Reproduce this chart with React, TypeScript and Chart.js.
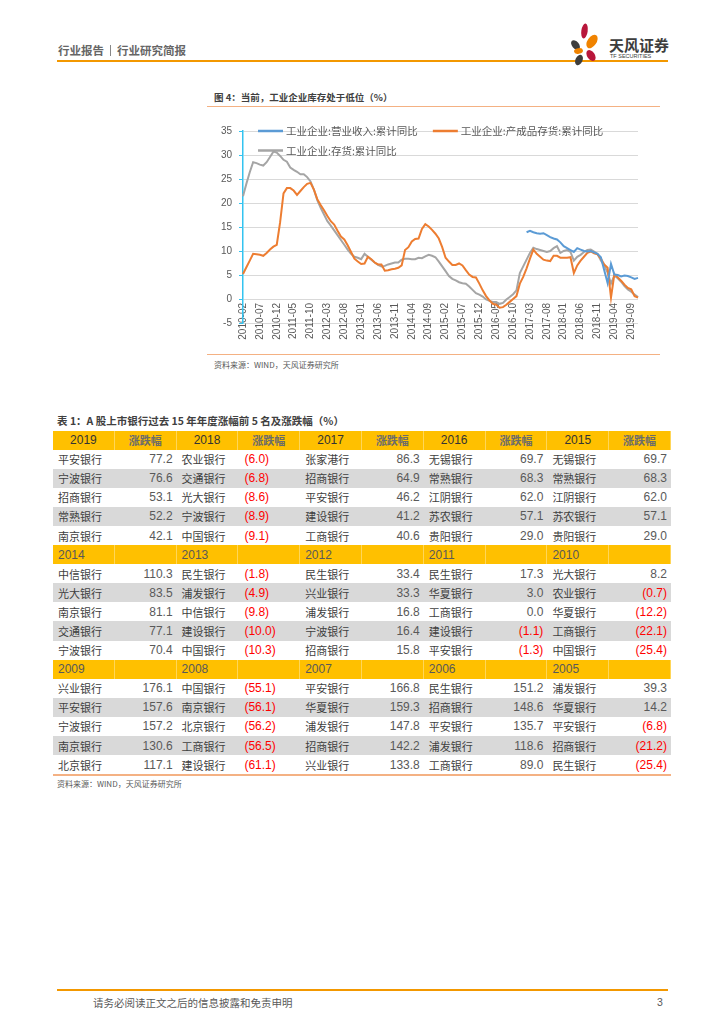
import React, { useEffect, useRef } from 'react';
import { Chart, registerables } from 'chart.js';

Chart.register(...registerables);

// ---------------- chart data ----------------
const months = [
  '2010-02', '2010-03', '2010-04', '2010-05', '2010-06', '2010-07', '2010-08', '2010-09', '2010-10', '2010-11', '2010-12',
  '2011-01', '2011-02', '2011-03', '2011-04', '2011-05', '2011-06', '2011-07', '2011-08', '2011-09', '2011-10', '2011-11', '2011-12',
  '2012-01', '2012-02', '2012-03', '2012-04', '2012-05', '2012-06', '2012-07', '2012-08', '2012-09', '2012-10', '2012-11', '2012-12',
  '2013-01', '2013-02', '2013-03', '2013-04', '2013-05', '2013-06', '2013-07', '2013-08', '2013-09', '2013-10', '2013-11', '2013-12',
  '2014-01', '2014-02', '2014-03', '2014-04', '2014-05', '2014-06', '2014-07', '2014-08', '2014-09', '2014-10', '2014-11', '2014-12',
  '2015-01', '2015-02', '2015-03', '2015-04', '2015-05', '2015-06', '2015-07', '2015-08', '2015-09', '2015-10', '2015-11', '2015-12',
  '2016-01', '2016-02', '2016-03', '2016-04', '2016-05', '2016-06', '2016-07', '2016-08', '2016-09', '2016-10', '2016-11', '2016-12',
  '2017-01', '2017-02', '2017-03', '2017-04', '2017-05', '2017-06', '2017-07', '2017-08', '2017-09', '2017-10', '2017-11', '2017-12',
  '2018-01', '2018-02', '2018-03', '2018-04', '2018-05', '2018-06', '2018-07', '2018-08', '2018-09', '2018-10', '2018-11', '2018-12',
  '2019-01', '2019-02', '2019-03', '2019-04', '2019-05', '2019-06', '2019-07', '2019-08', '2019-09', '2019-10', '2019-11',
];

const tickLabels = [
  '2010-02', '2010-07', '2010-12', '2011-05', '2011-10', '2012-03', '2012-08', '2013-01',
  '2013-06', '2013-11', '2014-04', '2014-09', '2015-02', '2015-07', '2015-12', '2016-05',
  '2016-10', '2017-03', '2017-08', '2018-01', '2018-06', '2018-11', '2019-04', '2019-09',
];

// 工业企业:营业收入:累计同比 (starts 2017-02)
const revenueYoY = [
  null, null, null, null, null, null, null, null, null, null, null,
  null, null, null, null, null, null, null, null, null, null, null, null,
  null, null, null, null, null, null, null, null, null, null, null, null,
  null, null, null, null, null, null, null, null, null, null, null, null,
  null, null, null, null, null, null, null, null, null, null, null, null,
  null, null, null, null, null, null, null, null, null, null, null, null,
  null, null, null, null, null, null, null, null, null, null, null, null,
  null, 13.9, 14.2, 13.9, 13.7, 13.6, 13.7, 13.3, 12.9, 12.6, 12.4, 11.8,
  11.0, 10.6, 10.2, 9.8, 10.6, 10.3, 10.0, 9.9, 10.0, 9.7, 9.4, 8.7,
  6.0, 3.3, 7.3, 5.1, 5.0, 4.7, 4.9, 4.8, 4.5, 4.2, 4.4,
];

// 工业企业:产成品存货:累计同比
const finishedGoodsYoY = [
  5.2, 6.6, 8.0, 9.4, 9.3, 9.2, 9.0, 9.6, 10.3, 10.9, 11.3,
  16.0, 22.0, 23.1, 23.1, 22.6, 21.7, 22.5, 23.3, 24.0, 24.2, 22.8, 20.8,
  19.6, 18.5, 17.3, 16.2, 15.5, 14.2, 13.0, 12.4, 11.2, 9.8, 8.4, 7.8,
  7.3, 7.4, 8.8, 8.3, 7.6, 7.2, 7.2, 5.9, 6.0, 6.2, 6.3, 6.5,
  7.0, 10.2, 10.8, 12.0, 12.5, 12.6, 14.6, 15.6, 15.1, 14.4, 13.6, 12.6,
  10.8, 8.6, 7.8, 7.1, 7.1, 7.4, 7.0, 6.0, 5.1, 4.6, 4.5, 3.2,
  1.8, 0.6, -0.3, -1.0, -1.2, -1.8, -1.7, -1.2, -0.6, 0.0, 0.6, 3.2,
  4.6, 6.4, 8.4, 10.3, 9.4, 8.8, 8.2, 8.0, 7.9, 9.0, 9.0, 8.6,
  8.6, 8.6, 8.7, 5.4, 7.0, 8.0, 8.8, 9.6, 9.9, 9.5, 9.3, 8.4,
  7.2, 6.5, 0.3, 5.2, 4.5, 3.8, 3.0, 2.3, 2.0, 0.6, 0.3,
];

// 工业企业:存货:累计同比
const inventoryYoY = [
  21.4, 24.0, 26.4, 28.5, 28.3, 28.0, 27.8, 28.5, 29.6, 30.7, 30.5,
  29.8, 29.0, 28.6, 27.4, 26.9, 26.5, 26.0, 26.0, 25.4, 24.5, 22.8, 20.6,
  19.0, 17.6, 16.2, 15.3, 14.3, 13.3, 12.3, 11.3, 10.3, 9.4, 8.8, 8.6,
  8.3, 9.4, 8.8, 8.2, 7.6, 7.1, 6.8, 6.9, 7.2, 7.4, 7.6, 7.6,
  8.2, 8.4, 8.4, 8.3, 8.3, 8.6, 8.5, 8.9, 9.2, 9.0, 8.7, 7.8,
  6.8, 5.8, 4.8, 4.2, 3.9, 3.5, 3.3, 3.2, 2.6, 1.9, 1.2, 0.9,
  0.5, -0.1, -0.4, -0.6, -0.6, -1.0, -0.8, -0.1, 0.4, 1.0, 1.8, 5.4,
  6.8, 8.2, 9.6, 10.7, 10.4, 10.2, 10.0, 9.8, 10.0, 10.6, 11.0, 9.6,
  10.0, 10.2, 9.8, 8.0, 8.8, 9.2, 9.8, 10.2, 10.3, 9.9, 9.4, 8.0,
  7.0, 5.5, 3.2, 4.9, 4.3, 3.6, 2.7, 2.0, 1.5, 0.9, 0.4,
];

const seriesLabels = ['工业企业:营业收入:累计同比', '工业企业:产成品存货:累计同比', '工业企业:存货:累计同比'];
const seriesColors = ['#5b9bd5', '#ed7d31', '#a5a5a5'];

// ---------------- table data ----------------
const tableYears = [
  [2019, 2018, 2017, 2016, 2015],
  [2014, 2013, 2012, 2011, 2010],
  [2009, 2008, 2007, 2006, 2005],
];

const top2019: [string, number][] = [['平安银行', 77.2], ['宁波银行', 76.6], ['招商银行', 53.1], ['常熟银行', 52.2], ['南京银行', 42.1]];
const top2018: [string, number][] = [['农业银行', -6.0], ['交通银行', -6.8], ['光大银行', -8.6], ['宁波银行', -8.9], ['中国银行', -9.1]];
const top2017: [string, number][] = [['张家港行', 86.3], ['招商银行', 64.9], ['平安银行', 46.2], ['建设银行', 41.2], ['工商银行', 40.6]];
const top2016: [string, number][] = [['无锡银行', 69.7], ['常熟银行', 68.3], ['江阴银行', 62.0], ['苏农银行', 57.1], ['贵阳银行', 29.0]];
const top2015: [string, number][] = [['无锡银行', 69.7], ['常熟银行', 68.3], ['江阴银行', 62.0], ['苏农银行', 57.1], ['贵阳银行', 29.0]];
const top2014: [string, number][] = [['中信银行', 110.3], ['光大银行', 83.5], ['南京银行', 81.1], ['交通银行', 77.1], ['宁波银行', 70.4]];
const top2013: [string, number][] = [['民生银行', -1.8], ['浦发银行', -4.9], ['中信银行', -9.8], ['建设银行', -10.0], ['中国银行', -10.3]];
const top2012: [string, number][] = [['民生银行', 33.4], ['兴业银行', 33.3], ['浦发银行', 16.8], ['宁波银行', 16.4], ['招商银行', 15.8]];
const top2011: [string, number][] = [['民生银行', 17.3], ['华夏银行', 3.0], ['工商银行', 0.0], ['建设银行', -1.1], ['平安银行', -1.3]];
const top2010: [string, number][] = [['光大银行', 8.2], ['农业银行', -0.7], ['华夏银行', -12.2], ['工商银行', -22.1], ['中国银行', -25.4]];
const top2009: [string, number][] = [['兴业银行', 176.1], ['平安银行', 157.6], ['宁波银行', 157.2], ['南京银行', 130.6], ['北京银行', 117.1]];
const top2008: [string, number][] = [['中国银行', -55.1], ['南京银行', -56.1], ['北京银行', -56.2], ['工商银行', -56.5], ['建设银行', -61.1]];
const top2007: [string, number][] = [['平安银行', 166.8], ['华夏银行', 159.3], ['浦发银行', 147.8], ['招商银行', 142.2], ['兴业银行', 133.8]];
const top2006: [string, number][] = [['民生银行', 151.2], ['招商银行', 148.6], ['平安银行', 135.7], ['浦发银行', 118.6], ['工商银行', 89.0]];
const top2005: [string, number][] = [['浦发银行', 39.3], ['华夏银行', 14.2], ['平安银行', -6.8], ['招商银行', -21.2], ['民生银行', -25.4]];

const rankByYear: Record<number, [string, number][]> = {
  2019: top2019, 2018: top2018, 2017: top2017, 2016: top2016, 2015: top2015,
  2014: top2014, 2013: top2013, 2012: top2012, 2011: top2011, 2010: top2010,
  2009: top2009, 2008: top2008, 2007: top2007, 2006: top2006, 2005: top2005,
};

// ---------------- styling ----------------
const CJK = '"Noto Sans CJK SC", "Noto Sans", sans-serif';
const NUM = '"Liberation Sans Narrow", "Liberation Sans", Arial, sans-serif';
const ORANGE = '#f39800';
const PEACH = '#f4b183';
const COL_W = 61.8;
const ROW_H = 19.1;

function fmt(v: number) {
  return v < 0 ? `(${Math.abs(v).toFixed(1)})` : v.toFixed(1);
}

function Txt(props: { x: number; y: number; size: number; children: React.ReactNode; bold?: boolean; color?: string; family?: string }) {
  const lh = Math.round(props.size * 1.4);
  return (
    <div
      style={{
        position: 'absolute',
        left: props.x,
        top: props.y - lh / 2,
        height: lh,
        lineHeight: `${lh}px`,
        fontSize: props.size,
        fontWeight: props.bold ? 700 : 400,
        color: props.color || '#595959',
        fontFamily: props.family || CJK,
        whiteSpace: 'nowrap',
      }}
    >
      {props.children}
    </div>
  );
}

function Logo() {
  return (
    <svg style={{ position: 'absolute', left: 560, top: 18 }} width={50} height={48} viewBox="560 18 50 48">
      <ellipse cx={584.5} cy={31} rx={3.2} ry={7.5} transform="rotate(8 584.5 31)" fill="#b8163b" />
      <ellipse cx={575.5} cy={45} rx={3.5} ry={5.5} transform="rotate(-40 575.5 45)" fill="#3d3d3d" />
      <ellipse cx={592} cy={41.5} rx={4.5} ry={7.5} transform="rotate(35 592 41.5)" fill="#f08300" />
      <ellipse cx={578.5} cy={51} rx={4.5} ry={2.8} transform="rotate(-10 578.5 51)" fill="#f08300" />
      <ellipse cx={591} cy={55.5} rx={3.8} ry={6} transform="rotate(-35 591 55.5)" fill="#b8163b" />
      <ellipse cx={579} cy={60} rx={3.5} ry={5.5} transform="rotate(25 579 60)" fill="#3d3d3d" />
    </svg>
  );
}

function cellStyle(align: 'left' | 'right' | 'center', extra?: React.CSSProperties): React.CSSProperties {
  return {
    width: COL_W,
    height: ROW_H,
    boxSizing: 'border-box',
    display: 'flex',
    alignItems: 'center',
    justifyContent: align === 'left' ? 'flex-start' : align === 'right' ? 'flex-end' : 'center',
    paddingLeft: 5,
    paddingRight: 5,
    whiteSpace: 'nowrap',
    ...extra,
  };
}

function BankTable() {
  const rows: React.ReactNode[] = [];
  tableYears.forEach((group, gi) => {
    rows.push(
      <div key={`h${gi}`} style={{ display: 'flex', height: ROW_H, background: '#ffc000' }}>
        {group.map((yr, ci) => (
          <React.Fragment key={ci}>
            <div
              style={cellStyle(gi === 0 ? 'center' : 'left', {
                fontFamily: NUM,
                fontSize: 12,
                color: gi === 0 ? '#333' : '#595959',
                borderRight: '1px solid rgba(255,255,255,0.35)',
              })}
            >
              {yr}
            </div>
            <div
              style={cellStyle('center', {
                fontFamily: CJK,
                fontSize: 11,
                fontWeight: 700,
                color: '#6b6b6b',
                borderRight: '1px solid rgba(255,255,255,0.35)',
              })}
            >
              {gi === 0 ? '涨跌幅' : ''}
            </div>
          </React.Fragment>
        ))}
      </div>
    );
    for (let r = 0; r < 5; r++) {
      rows.push(
        <div key={`r${gi}-${r}`} style={{ display: 'flex', height: ROW_H, background: r % 2 === 1 ? '#d9d9d9' : '#ffffff' }}>
          {group.map((yr, ci) => {
            const [name, v] = rankByYear[yr][r];
            return (
              <React.Fragment key={ci}>
                <div style={cellStyle('left', { fontFamily: CJK, fontSize: 11, color: '#404040' })}>{name}</div>
                <div
                  style={cellStyle(ci === 1 ? 'left' : 'right', {
                    fontFamily: NUM,
                    fontSize: 12,
                    color: v < 0 ? '#ff0000' : '#595959',
                    paddingLeft: ci === 1 ? 6 : 5,
                    paddingRight: 4,
                  })}
                >
                  {fmt(v)}
                </div>
              </React.Fragment>
            );
          })}
        </div>
      );
    }
  });
  return (
    <div style={{ position: 'absolute', left: 53, top: 430.5, width: COL_W * 10 }}>
      {rows}
      <div style={{ height: 1.5, background: PEACH }} />
    </div>
  );
}

export default function App() {
  const canvasRef = useRef<HTMLCanvasElement>(null);

  useEffect(() => {
    const canvas = canvasRef.current;
    if (!canvas) return;

    const insideLegend = {
      id: 'insideLegend',
      afterDatasetsDraw(chart: any) {
        const { ctx, chartArea } = chart;
        ctx.save();
        ctx.font = `10.5px ${CJK}`;
        ctx.textBaseline = 'middle';
        ctx.textAlign = 'left';
        const startX = chartArea.left + 15;
        let x = startX;
        let y = chartArea.top;
        chart.data.datasets.forEach((ds: any) => {
          const w = 28 + ctx.measureText(ds.label).width;
          if (x !== startX && x + w > chartArea.right) {
            x = startX;
            y += 19.5;
          }
          ctx.strokeStyle = ds.borderColor;
          ctx.lineWidth = 2.5;
          ctx.beginPath();
          ctx.moveTo(x, y);
          ctx.lineTo(x + 25, y);
          ctx.stroke();
          ctx.fillStyle = '#595959';
          ctx.fillText(ds.label, x + 28, y + 0.5);
          x += w + 15;
        });
        ctx.restore();
      },
    };

    const datasets = [revenueYoY, finishedGoodsYoY, inventoryYoY].map((d, i) => ({
      label: seriesLabels[i],
      data: d,
      borderColor: seriesColors[i],
      backgroundColor: seriesColors[i],
      borderWidth: 2,
      pointRadius: 0,
      tension: 0,
      fill: false,
      spanGaps: false,
    }));

    const chart = new Chart(canvas, {
      type: 'line',
      data: { labels: months, datasets },
      options: {
        animation: false,
        responsive: false,
        maintainAspectRatio: false,
        layout: { padding: { top: 16, right: 17, bottom: 27, left: 0 } },
        plugins: {
          legend: { display: false },
          tooltip: { enabled: false },
        },
        scales: {
          x: {
            type: 'category',
            position: { y: 0 } as any,
            offset: false,
            grid: { display: false, drawTicks: false },
            border: { display: false },
            ticks: {
              autoSkip: false,
              minRotation: 90,
              maxRotation: 90,
              padding: 4,
              color: '#595959',
              font: { family: 'Liberation Sans', size: 10 },
              callback: (_v: any, i: number) => (tickLabels.includes(months[i]) ? months[i] : ''),
            },
            afterFit: (s: any) => {
              s.height = 0;
              s.paddingLeft = 0;
              s.paddingRight = 0;
            },
          },
          y: {
            min: -5,
            max: 35,
            ticks: {
              stepSize: 5,
              padding: 7,
              color: '#595959',
              font: { family: 'Liberation Sans', size: 10 },
            },
            grid: { color: '#d9d9d9', lineWidth: 1, tickColor: '#33c3f0', tickLength: 4 },
            border: { display: true, color: '#33c3f0', width: 1.5 },
            afterFit: (s: any) => {
              s.width = 38;
            },
          },
        },
      },
      plugins: [insideLegend],
    } as any);

    return () => chart.destroy();
  }, []);

  return (
    <div style={{ position: 'absolute', left: 0, top: 0, width: 724, height: 1024, background: '#fff', fontFamily: CJK, overflow: 'hidden' }}>
      {/* page header */}
      <Txt x={58} y={50} size={11.5} bold color="#666">
        行业报告
        <span style={{ display: 'inline-block', width: 1, height: 11, background: '#888', margin: '0 6px', verticalAlign: '-1px' }} />
        行业研究简报
      </Txt>
      <div style={{ position: 'absolute', left: 57, top: 60, width: 611, height: 2, background: ORANGE }} />
      <Logo />
      <Txt x={609} y={44} size={15} bold color="#3d3d3d">天风证券</Txt>
      <Txt x={610} y={55.5} size={5.5} color="#3d3d3d" family="Liberation Sans">TF SECURITIES</Txt>

      {/* figure 4 */}
      <Txt x={214} y={97} size={9.5} bold color="#404040">图 4：当前，工业企业库存处于低位（%）</Txt>
      <div style={{ position: 'absolute', left: 207, top: 105.5, width: 453, height: 1.5, background: PEACH }} />
      <canvas
        ref={canvasRef}
        width={450}
        height={235}
        style={{ position: 'absolute', left: 205, top: 115, width: 450, height: 235 }}
      />
      <div style={{ position: 'absolute', left: 207, top: 353.5, width: 453, height: 1.5, background: PEACH }} />
      <Txt x={214} y={364} size={8} color="#595959">资料来源：WIND，天风证券研究所</Txt>

      {/* table 1 */}
      <Txt x={57} y={420} size={10.5} bold color="#404040">表 1：A 股上市银行过去 15 年年度涨幅前 5 名及涨跌幅（%）</Txt>
      <BankTable />
      <Txt x={57} y={783} size={8} color="#595959">资料来源：WIND，天风证券研究所</Txt>

      {/* footer */}
      <div style={{ position: 'absolute', left: 57, top: 989, width: 611, height: 2, background: ORANGE }} />
      <Txt x={93} y={1002} size={10.5} color="#595959">请务必阅读正文之后的信息披露和免责申明</Txt>
      <Txt x={657} y={1002} size={10.5} color="#595959" family="Liberation Sans">3</Txt>
    </div>
  );
}
